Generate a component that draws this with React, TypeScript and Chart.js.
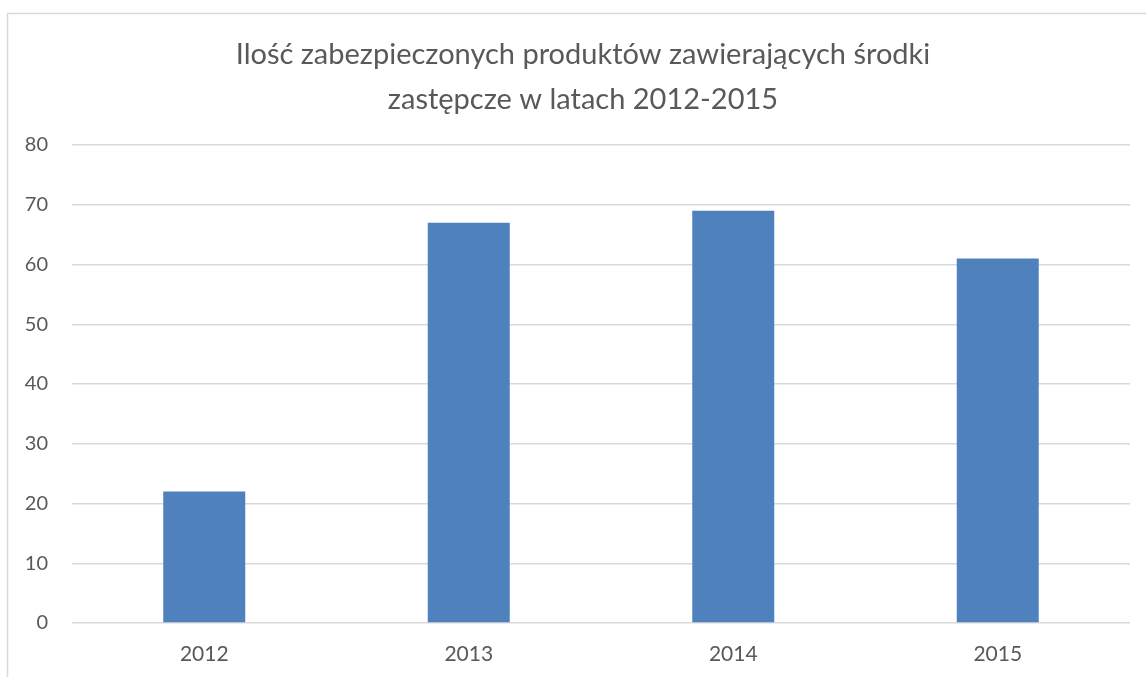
import React, { useEffect, useRef } from "react";
import { Chart, registerables } from "chart.js";

Chart.register(...registerables);

const categories = ["2012", "2013", "2014", "2015"];
const values = [22, 67, 69, 61];
const titleLines = [
  "Ilość zabezpieczonych produktów zawierających środki",
  "zastępcze w latach 2012-2015",
];
const yMin = 0;
const yMax = 80;
const yStep = 10;

const FONT = "Lato, 'Noto Sans', sans-serif";
const TEXT = "#595959";

const frame = {
  id: "frame",
  beforeDraw(chart: any) {
    const ctx = chart.ctx;
    ctx.save();
    ctx.fillStyle = "#ffffff";
    ctx.fillRect(0, 0, chart.width, chart.height);
    ctx.strokeStyle = "#d9d9d9";
    ctx.lineWidth = 1.5;
    ctx.strokeRect(7.5, 13.5, chart.width + 20, chart.height + 20);
    ctx.restore();
  },
  afterDraw(chart: any) {
    const ctx = chart.ctx;
    ctx.save();
    ctx.fillStyle = TEXT;
    ctx.font = `29px ${FONT}`;
    ctx.textAlign = "center";
    ctx.textBaseline = "middle";
    titleLines.forEach((line, i) => ctx.fillText(line, 583, 55 + i * 45));
    ctx.restore();
  },
};

export default function App() {
  const ref = useRef<HTMLCanvasElement>(null);
  useEffect(() => {
    const chart = new Chart(ref.current!, {
      type: "bar",
      data: {
        labels: categories,
        datasets: [
          {
            data: values,
            backgroundColor: "#4f81bd",
            barPercentage: 0.31,
            categoryPercentage: 1,
          },
        ],
      },
      options: {
        responsive: false,
        animation: false,
        layout: { padding: { left: 20, right: 16, top: 145, bottom: 0 } },
        plugins: {
          legend: { display: false },
          tooltip: { enabled: false },
          title: { display: false },
        },
        scales: {
          x: {
            grid: { display: false },
            border: { display: false },
            ticks: { color: TEXT, font: { family: FONT, size: 21 }, padding: 11 },
            afterFit(scale: any) {
              scale.height = 54;
            },
          },
          y: {
            min: yMin,
            max: yMax,
            grid: { color: "#d9d9d9", lineWidth: 1.5, drawTicks: false },
            border: { display: false },
            ticks: { stepSize: yStep, color: TEXT, font: { family: FONT, size: 20 }, padding: 24 },
            afterFit(scale: any) {
              scale.width = 52;
            },
          },
        },
      },
      plugins: [frame],
    });
    return () => chart.destroy();
  }, []);
  return (
    <div style={{ position: "absolute", left: 0, top: 0, width: 1146, height: 677 }}>
      <canvas ref={ref} width={1146} height={677} style={{ display: "block" }} />
    </div>
  );
}
